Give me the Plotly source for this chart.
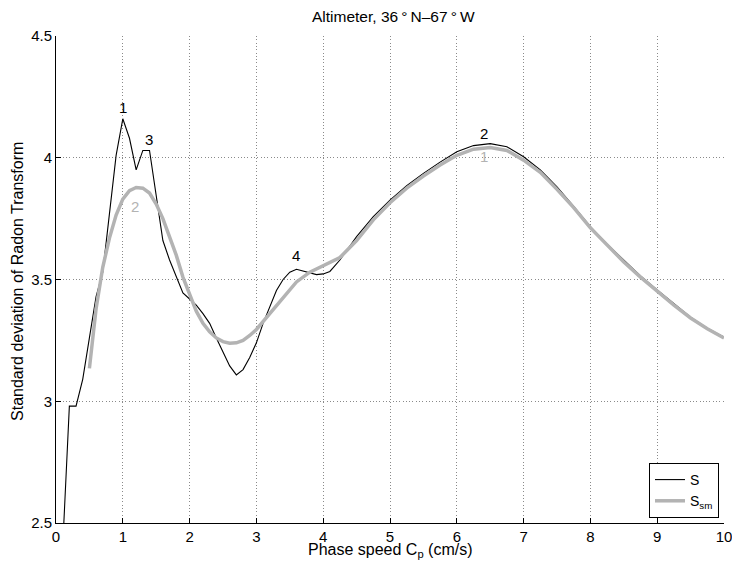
import plotly.graph_objects as go

# Phase speed grid (cm/s) and standard deviation of the Radon transform, S
cp_s = [0.1, 0.2, 0.3, 0.4, 0.5, 0.6, 0.7, 0.8, 0.9, 1.0,
        1.1, 1.2, 1.3, 1.4, 1.5, 1.6, 1.7, 1.8, 1.9, 2.0,
        2.1, 2.2, 2.3, 2.4, 2.5, 2.6, 2.7, 2.8, 2.9, 3.0,
        3.1, 3.2, 3.3, 3.4, 3.5, 3.6, 3.7, 3.8, 3.9, 4.0,
        4.1, 4.25, 4.5, 4.75, 5.0, 5.25, 5.5, 5.75, 6.0, 6.25,
        6.5, 6.75, 7.0, 7.25, 7.5, 7.75, 8.0, 8.25, 8.5, 8.75,
        9.0, 9.25, 9.5, 9.75, 10.0]
s_vals = [2.40, 2.98, 2.98, 3.09, 3.26, 3.43, 3.53, 3.78, 4.01, 4.16,
          4.08, 3.95, 4.03, 4.03, 3.85, 3.66, 3.58, 3.51, 3.445, 3.42,
          3.395, 3.36, 3.32, 3.26, 3.20, 3.145, 3.108, 3.13, 3.18, 3.24,
          3.32, 3.39, 3.455, 3.50, 3.53, 3.542, 3.535, 3.525, 3.52, 3.523,
          3.533, 3.58, 3.676, 3.758, 3.826, 3.885, 3.936, 3.982, 4.025, 4.05,
          4.058, 4.045, 4.004, 3.95, 3.88, 3.80, 3.717, 3.645, 3.578, 3.515,
          3.457, 3.40, 3.345, 3.30, 3.263]

# Smoothed version, S_sm
cp_sm = [0.5, 0.6, 0.7, 0.8, 0.9, 1.0, 1.1, 1.2, 1.3, 1.4,
         1.5, 1.6, 1.7, 1.8, 1.9, 2.0, 2.1, 2.2, 2.3, 2.4,
         2.5, 2.6, 2.7, 2.8, 2.9, 3.0, 3.2, 3.4, 3.6, 3.8,
         4.0, 4.25, 4.5, 4.75, 5.0, 5.25, 5.5, 5.75, 6.0, 6.25,
         6.5, 6.75, 7.0, 7.25, 7.5, 7.75, 8.0, 8.25, 8.5, 8.75,
         9.0, 9.25, 9.5, 9.75, 10.0]
sm_vals = [3.135, 3.38, 3.55, 3.67, 3.765, 3.83, 3.865, 3.878, 3.875, 3.855,
           3.81, 3.75, 3.675, 3.60, 3.51, 3.435, 3.37, 3.32, 3.285, 3.26,
           3.245, 3.238, 3.24, 3.25, 3.27, 3.295, 3.36, 3.43, 3.49, 3.53,
           3.555, 3.59, 3.66, 3.745, 3.815, 3.875, 3.925, 3.97, 4.01, 4.035,
           4.042, 4.03, 3.99, 3.94, 3.87, 3.795, 3.712, 3.64, 3.572, 3.51,
           3.452, 3.395, 3.342, 3.298, 3.26]

# Ranked peak labels: (x, y, text) for S and S_sm
s_peaks_x = [1.0, 6.40, 1.39, 3.59]
s_peaks_y = [4.205, 4.10, 4.073, 3.597]
s_peaks_t = ["1", "2", "3", "4"]
sm_peaks_x = [6.40, 1.18]
sm_peaks_y = [4.004, 3.80]
sm_peaks_t = ["1", "2"]

x_ticks = [0, 1, 2, 3, 4, 5, 6, 7, 8, 9, 10]
y_ticks = [2.5, 3.0, 3.5, 4.0, 4.5]
y_tick_text = ["2.5", "3", "3.5", "4", "4.5"]

FONT = "Liberation Sans, Arial, Helvetica, sans-serif"
GREY = "#b3b3b3"

fig = go.Figure()
fig.add_trace(go.Scatter(x=cp_s, y=s_vals, mode="lines", name="S",
                         line=dict(color="black", width=1.1)))
fig.add_trace(go.Scatter(x=cp_sm, y=sm_vals, mode="lines", name="S<sub>sm</sub>",
                         line=dict(color=GREY, width=3.5)))

annotations = []
for x, y, t in zip(s_peaks_x, s_peaks_y, s_peaks_t):
    annotations.append(dict(x=x, y=y, text=t, showarrow=False, xref="x", yref="y",
                            font=dict(family=FONT, size=15, color="black")))
for x, y, t in zip(sm_peaks_x, sm_peaks_y, sm_peaks_t):
    annotations.append(dict(x=x, y=y, text=t, showarrow=False, xref="x", yref="y",
                            font=dict(family=FONT, size=15, color=GREY)))

# Title and axis titles placed as paper annotations
annotations.append(dict(x=0.505, y=1.041, xref="paper", yref="paper", showarrow=False,
                        text="Altimeter, 36\u2009°\u2009N–67\u2009°\u2009W",
                        xanchor="center", yanchor="middle",
                        font=dict(family=FONT, size=15.5, color="black")))
annotations.append(dict(x=0.5, y=-0.056, xref="paper", yref="paper", showarrow=False,
                        text="Phase speed C<sub>p</sub> (cm/s)",
                        xanchor="center", yanchor="middle",
                        font=dict(family=FONT, size=16, color="black")))
annotations.append(dict(x=-0.0576, y=0.496, xref="paper", yref="paper", showarrow=False,
                        text="Standard deviation of Radon Transform", textangle=-90,
                        xanchor="center", yanchor="middle",
                        font=dict(family=FONT, size=16, color="black")))

axis_common = dict(showline=True, linecolor="black", linewidth=1, mirror=False,
                   ticks="inside", ticklen=5, tickcolor="black",
                   showgrid=True, gridcolor="#8a8a8a", gridwidth=1, griddash="1px,2.3px",
                   zeroline=False, ticklabeloverflow="allow", automargin=False,
                   tickfont=dict(family=FONT, size=15, color="black"))

fig.update_layout(
    width=732, height=564,
    margin=dict(l=56, r=8, t=36, b=41),
    paper_bgcolor="white", plot_bgcolor="white",
    xaxis=dict(range=[0, 10], tickvals=x_ticks, **axis_common),
    yaxis=dict(range=[2.5, 4.5], tickvals=y_ticks, ticktext=y_tick_text, **axis_common),
    showlegend=True,
    legend=dict(x=0.9925, y=0.0103, xanchor="right", yanchor="bottom",
                bgcolor="white", bordercolor="black", borderwidth=1,
                font=dict(family=FONT, size=14, color="black"),
                itemwidth=30, tracegroupgap=0),
    annotations=annotations,
)

fig.write_html("out.html")
